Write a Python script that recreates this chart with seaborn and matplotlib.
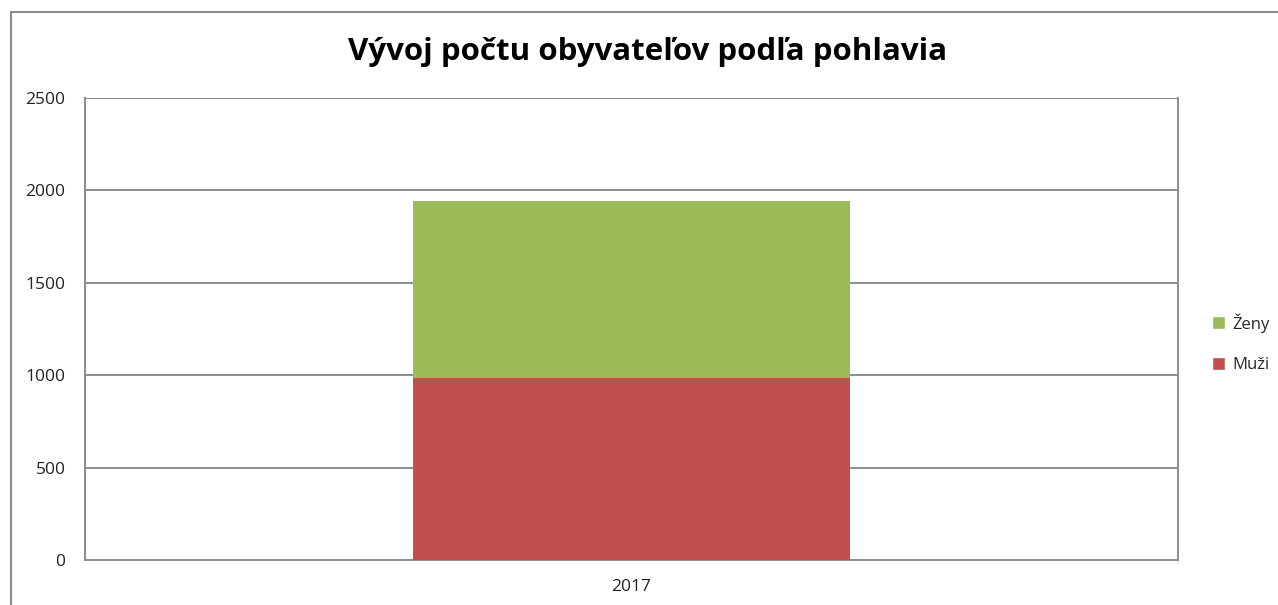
import matplotlib
matplotlib.use("Agg")
import matplotlib.pyplot as plt
import seaborn as sns
import pandas as pd
from matplotlib.patches import Rectangle, Patch

years = ["2017"]
muzi = [985]
zeny = [958]
title = "Vývoj počtu obyvateľov podľa pohlavia"
yticks = [0, 500, 1000, 1500, 2000, 2500]

sns.set_theme(style="white")
plt.rcParams['font.family'] = ['Open Sans', 'DejaVu Sans']

df = pd.DataFrame({"rok": years, "Muži": muzi, "Ženy": zeny})
df["spolu"] = df["Muži"] + df["Ženy"]

green = "#9BBB59"
red = "#C0504D"
grid = "#8C8C8C"

fig = plt.figure(figsize=(12.78, 6.05), dpi=100)
ax = fig.add_axes([85/1278, 1-560/605, (1178-85)/1278, (560-98)/605])

sns.barplot(data=df, x="rok", y="spolu", color=green, width=0.4, ax=ax, saturation=1,
            zorder=3, linewidth=0, edgecolor="none")
sns.barplot(data=df, x="rok", y="Muži", color=red, width=0.4, ax=ax, saturation=1,
            zorder=3, linewidth=0, edgecolor="none")

ax.set_xlim(-0.5, 0.5)
ax.set_ylim(0, 2500)
ax.set_yticks(yticks)
ax.set_yticklabels([str(v) for v in yticks], fontsize=12.5, color="#222222")
ax.set_xlabel("")
ax.set_ylabel("")
ax.tick_params(axis="x", length=0, labelsize=12.5, labelcolor="#222222", pad=14)
ax.tick_params(axis="y", length=6, width=1.2, color=grid, direction="out", pad=8)
ax.set_xticks([-0.5, 0.5], minor=True)
ax.tick_params(axis="x", which="minor", length=7, width=1.2, color=grid, direction="out")
ax.grid(axis="y", color=grid, linewidth=1.4, zorder=0)
ax.set_axisbelow(True)
for s in ["left", "right", "bottom"]:
    ax.spines[s].set_visible(True)
    ax.spines[s].set_color(grid)
    ax.spines[s].set_linewidth(1.4)
ax.spines["top"].set_visible(False)

fig.text(648/1278, 1-52/605, title, ha="center", va="center", fontsize=22.5, fontweight="bold", color="#000000")

handles = [Patch(facecolor=green, label="Ženy"), Patch(facecolor=red, label="Muži")]
leg = fig.legend(handles=handles, loc="center left", bbox_to_anchor=(1197/1278, 1-343/605),
                 frameon=False, fontsize=12, handlelength=0.8, handleheight=0.8,
                 handletextpad=0.4, labelspacing=1.45)

fig.patches.append(Rectangle((11/1278, -0.1), 1.2, 1.1 - 12/605, transform=fig.transFigure,
                             fill=False, edgecolor="#8C8C8C", linewidth=1.5))

fig.savefig("out.png", dpi=100)
